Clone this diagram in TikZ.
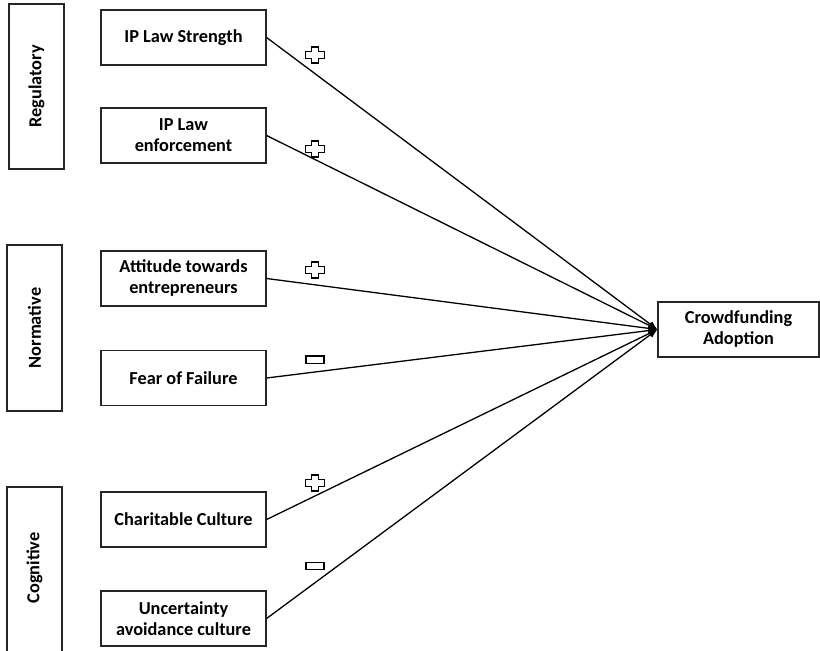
\documentclass[tikz,border=0pt]{standalone}
\usepackage{fontspec}
\setmainfont{Carlito}
\usetikzlibrary{arrows.meta}
\begin{document}
\begin{tikzpicture}[x=1pt,y=-1pt,
  lbl/.style={font=\fontsize{18.3}{21}\selectfont\bfseries},
  box/.style={lbl, draw=black!85, line width=1.2pt, fill=white, inner sep=0pt,
    minimum width=165pt, minimum height=55pt, align=center},
  dimbox/.style={draw=black!85, line width=1.2pt, inner sep=0pt,
    minimum width=55pt},
  link/.style={line width=1.3pt, -{Latex[length=9pt,width=7pt]}},
  sign/.style={draw=black, line width=1.4pt, fill=white}]
\useasboundingbox (0,0) rectangle (820,651);
\clip (0,0) rectangle (820,651);

% dimension boxes (vertical labels)
\node[dimbox, minimum height=165pt] (reg) at (36.5,86.5) {};
\node[lbl, rotate=90] (regt) at (reg.center) {Regulatory};
\node[dimbox, minimum height=166pt] (nor) at (34.5,328) {};
\node[lbl, rotate=90] (nort) at (nor.center) {Normative};
\node[dimbox, minimum height=180pt] (cog) at (34.5,577) {};
\node[lbl, rotate=90] (cogt) at (34.5,568) {Cognitive};

% factor boxes
\node[box] (ips) at (183.5,37.5) {IP Law Strength};
\node[box] (ipe) at (183.5,135.5) {IP Law\\enforcement};
\node[box] (att) at (183.5,278.5) {Attitude towards\\entrepreneurs};
\node[box] (fear) at (183.5,378) {Fear of Failure};
\node[box] (cha) at (183.5,519.5) {Charitable Culture};
\node[box] (unc) at (183.5,618.5) {Uncertainty\\avoidance culture};

% outcome
\node[box, minimum width=161pt] (cfa) at (738.5,329.5) {Crowdfunding\\Adoption};

% influence arrows
\foreach \n in {ips,ipe,att,fear,cha,unc}
  \draw[link] (\n.east) -- (cfa.west);

% positive / negative signs
\foreach \p in {(315,55),(315,149),(315,270),(315,483)}
  \draw[sign, shift={\p}]
    (-3.5,-8) -- (3.5,-8) -- (3.5,-3.5) -- (9.5,-3.5) -- (9.5,3.5) -- (3.5,3.5)
    -- (3.5,8) -- (-3.5,8) -- (-3.5,3.5) -- (-9.5,3.5) -- (-9.5,-3.5) -- (-3.5,-3.5) -- cycle;
\foreach \p in {(315,359.5),(315,566)}
  \draw[sign, shift={\p}] (-9,-3.7) rectangle (9,3.7);
\end{tikzpicture}
\end{document}
